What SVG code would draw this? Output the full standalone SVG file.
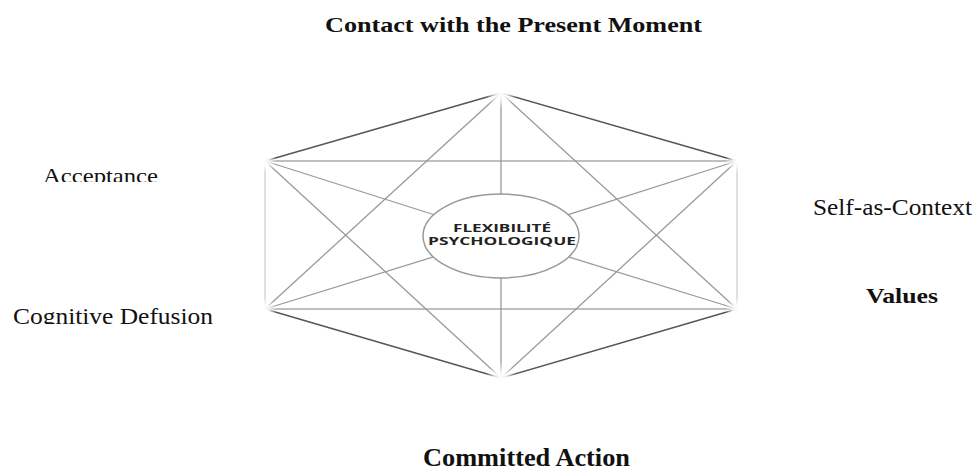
<svg xmlns="http://www.w3.org/2000/svg" width="974" height="468" viewBox="0 0 974 468">
<style>
.lbl{font-family:"Liberation Serif","Times New Roman",serif;fill:#111}
.b{font-weight:bold}
.e{stroke:#555;stroke-width:1.4;fill:none}
.i{stroke:#999;stroke-width:1.3;fill:none}
.h{stroke:#aaa;stroke-width:1.3;fill:none}
.s{stroke:#d0d0d0;stroke-width:1.3;fill:none}
.ctr{font-family:"Open Sans","DejaVu Sans",sans-serif;font-weight:bold;font-size:11px;fill:#222}
</style>
<defs>
<radialGradient id="fade">
<stop offset="0" stop-color="#fff" stop-opacity="1"/>
<stop offset="0.35" stop-color="#fff" stop-opacity="0.85"/>
<stop offset="1" stop-color="#fff" stop-opacity="0"/>
</radialGradient>
<clipPath id="clipA"><rect x="0" y="150" width="250" height="32"/></clipPath>
<clipPath id="clipD"><rect x="0" y="290" width="250" height="34"/></clipPath>
</defs>
<rect width="974" height="468" fill="#fff"/>
<g id="connectors">
<line class="e" x1="501" y1="93" x2="265" y2="161"/>
<line class="e" x1="501" y1="93" x2="737" y2="161"/>
<line class="e" x1="501" y1="378" x2="265" y2="309"/>
<line class="e" x1="501" y1="378" x2="737" y2="309"/>
<line class="h" x1="265" y1="161" x2="737" y2="161"/>
<line class="h" x1="265" y1="309" x2="737" y2="309"/>
<line class="s" x1="265" y1="161" x2="265" y2="309"/>
<line class="s" x1="737" y1="161" x2="737" y2="309"/>
<line class="i" x1="501" y1="93" x2="265" y2="309"/>
<line class="i" x1="501" y1="93" x2="737" y2="309"/>
<line class="i" x1="501" y1="378" x2="265" y2="161"/>
<line class="i" x1="501" y1="378" x2="737" y2="161"/>
<line class="i" x1="501" y1="93" x2="501" y2="378"/>
<line class="i" x1="265" y1="161" x2="501" y2="236"/>
<line class="i" x1="737" y1="161" x2="501" y2="236"/>
<line class="i" x1="265" y1="309" x2="501" y2="236"/>
<line class="i" x1="737" y1="309" x2="501" y2="236"/>
<circle cx="501" cy="93" r="16" fill="url(#fade)"/>
<circle cx="501" cy="378" r="16" fill="url(#fade)"/>
<circle cx="265" cy="161" r="12" fill="url(#fade)"/>
<circle cx="737" cy="161" r="12" fill="url(#fade)"/>
<circle cx="265" cy="309" r="12" fill="url(#fade)"/>
<circle cx="737" cy="309" r="12" fill="url(#fade)"/>
</g>
<g id="center">
<ellipse cx="501" cy="236" rx="78" ry="42" fill="#fff" stroke="#999" stroke-width="1.5"/>
<text class="ctr" x="502" y="232" text-anchor="middle" textLength="98" lengthAdjust="spacingAndGlyphs">FLEXIBILITÉ</text>
<text class="ctr" x="502" y="245" text-anchor="middle" textLength="148" lengthAdjust="spacingAndGlyphs">PSYCHOLOGIQUE</text>
</g>
<g id="present">
<text class="lbl b" x="325" y="32" font-size="22" textLength="377" lengthAdjust="spacingAndGlyphs">Contact with the Present Moment</text>
</g>
<g id="acceptance">
<text class="lbl" x="43" y="183" font-size="22" textLength="115" lengthAdjust="spacingAndGlyphs" clip-path="url(#clipA)">Acceptance</text>
</g>
<g id="defusion">
<text class="lbl" x="13" y="324" font-size="24" textLength="200" lengthAdjust="spacingAndGlyphs" clip-path="url(#clipD)">Cognitive Defusion</text>
</g>
<g id="self">
<text class="lbl" x="813" y="215" font-size="24" textLength="159" lengthAdjust="spacingAndGlyphs">Self-as-Context</text>
</g>
<g id="values">
<text class="lbl b" x="866" y="303" font-size="22" textLength="72" lengthAdjust="spacingAndGlyphs">Values</text>
</g>
<g id="action">
<text class="lbl b" x="423" y="466" font-size="25" textLength="207" lengthAdjust="spacingAndGlyphs">Committed Action</text>
</g>
</svg>
